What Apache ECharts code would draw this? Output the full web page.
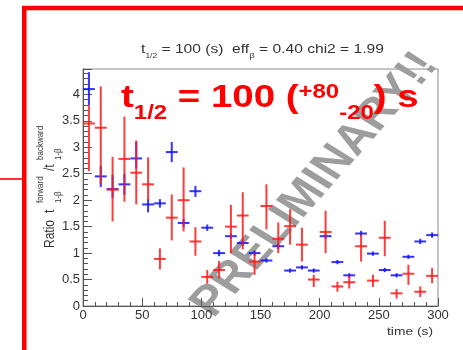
<!DOCTYPE html>
<html><head><meta charset="utf-8">
<script src="https://cdn.jsdelivr.net/npm/echarts@6/dist/echarts.min.js"></script>
<style>html,body{margin:0;padding:0;background:#fff}#c{width:463px;height:350px}</style>
</head><body><div id="c"></div>
<script>
// ---- data ----
const binCenters = [5,15,25,35,45,55,65,75,85,95,105,115,125,135,145,155,165,175,185,195,205,215,225,235,245,255,265,275,285,295];
const blueVals = [4.10,2.45,2.21,2.30,2.79,1.92,1.94,2.91,1.57,2.17,1.48,1.00,1.32,1.19,1.00,0.86,1.13,0.67,0.73,0.67,1.32,0.83,0.58,1.37,0.99,0.68,0.58,0.93,1.22,1.34];
const blueLo   = [3.80,2.25,2.04,2.10,2.60,1.77,1.86,2.72,1.49,2.06,1.42,0.94,1.27,1.14,0.95,0.82,1.08,0.63,0.69,0.63,1.27,0.79,0.54,1.32,0.95,0.64,0.54,0.89,1.17,1.29];
const blueHi   = [4.42,2.65,2.48,2.50,3.10,2.02,2.02,3.10,1.65,2.27,1.54,1.06,1.37,1.24,1.05,0.90,1.18,0.71,0.77,0.71,1.37,0.87,0.62,1.42,1.03,0.72,0.62,0.97,1.27,1.39];
const redVals  = [3.45,3.37,2.20,2.78,2.52,2.30,0.89,1.67,2.00,1.22,0.55,0.68,1.50,1.71,0.84,1.89,1.27,1.51,1.16,0.50,1.40,0.37,0.45,1.13,0.48,1.29,0.24,0.61,0.27,0.57];
const redLo    = [2.55,2.30,1.60,1.97,1.92,2.00,0.69,1.24,1.41,0.95,0.42,0.52,1.00,1.07,0.59,1.45,1.00,1.16,0.84,0.36,1.00,0.27,0.33,0.84,0.36,0.94,0.14,0.40,0.17,0.43];
const redHi    = [3.80,4.15,2.82,3.58,3.13,2.81,1.09,2.11,2.62,1.49,0.68,0.85,1.91,2.15,1.00,2.30,1.58,1.83,1.48,0.59,1.80,0.46,0.58,1.35,0.59,1.61,0.32,0.78,0.37,0.72];
const binHalfWidth = 5;
const xRange = [0, 300, 50];
const yRange = [0, 4.48, 0.5];
const titleParts = ['t', '1/2', ' = 100 (s)  eff', 'β', ' = 0.40 chi2 = 1.99'];
const resultParts = ['t', '1/2', ' = 100 (', '+80', '-20', ') s'];
const yNameParts = ['Ratio', 't', 'forward', '1-β', '/t', 'backward', '1-β'];
const xName = 'time (s)';
const watermark = 'PRELIMINARY!!';

const FONT = '"Liberation Sans", Arial, Helvetica, sans-serif';
const chart = echarts.init(document.getElementById('c'), null, {renderer: 'canvas'});

function crossSeries(name, vals, lo, hi, color, z) {
  return {
    type: 'custom', name: name, z: z, clip: true,
    data: binCenters.map((t, i) => [t, vals[i], lo[i], hi[i]]),
    encode: {x: 0, y: [1, 2, 3]},
    renderItem: function (params, api) {
      const t = api.value(0), v = api.value(1), l = api.value(2), h = api.value(3);
      const a = api.coord([t - binHalfWidth, v]), b = api.coord([t + binHalfWidth, v]);
      const c = api.coord([t, l]), d = api.coord([t, h]);
      const style = {stroke: color, lineWidth: 2, opacity: 0.85};
      return {type: 'group', children: [
        {type: 'line', shape: {x1: a[0], y1: a[1], x2: b[0], y2: b[1]}, style: style},
        {type: 'line', shape: {x1: c[0], y1: c[1], x2: d[0], y2: d[1]}, style: style}
      ]};
    }
  };
}

const axisCommon = {
  axisLine: {show: true, lineStyle: {color: '#555', width: 1}},
  splitLine: {show: false}
};

const option = {
  animation: false,
  backgroundColor: '#fff',
  grid: {left: 83, top: 69, width: 355, height: 237, show: true, borderColor: '#8a8a8a', borderWidth: 1},
  xAxis: Object.assign({}, axisCommon, {
    type: 'value', min: xRange[0], max: xRange[1], interval: xRange[2],
    axisTick: {show: true, inside: true, length: 8, lineStyle: {color: '#555'}},
    minorTick: {show: true, splitNumber: 5, length: 4, lineStyle: {color: '#555'}},
    axisLabel: {color: '#333', fontSize: 13, fontFamily: FONT, margin: 3}
  }),
  yAxis: Object.assign({}, axisCommon, {
    type: 'value', min: yRange[0], max: yRange[1], interval: yRange[2],
    axisTick: {show: true, inside: true, length: 9, lineStyle: {color: '#555'}},
    minorTick: {show: true, splitNumber: 5, length: 5, lineStyle: {color: '#555'}},
    axisLabel: {color: '#333', fontSize: 13, fontFamily: FONT, margin: 3, showMaxLabel: false,
      formatter: v => (v > 4.49 ? '' : String(v))}
  }),
  series: [
    crossSeries('blue', blueVals, blueLo, blueHi, '#1010ff', 3),
    crossSeries('red', redVals, redLo, redHi, '#ff1a1a', 4)
  ],
  graphic: [
    // red outer frame
    {type: 'rect', z: 50, shape: {x: 24.25, y: 8, width: 700, height: 700},
     style: {fill: 'none', stroke: '#ff0000', lineWidth: 4.5}},
    {type: 'line', z: 50, shape: {x1: 0, y1: 179, x2: 23, y2: 179},
     style: {stroke: '#ff0000', lineWidth: 1.6}},
    // title
    {type: 'text', z: 60, x: 262.5, y: 49.5, scaleX: 1.2,
     style: {
       text: '{m|' + titleParts[0] + '}{s|' + titleParts[1] + '}{m|' + titleParts[2] + '}{b|' + titleParts[3] + '}{m|' + titleParts[4] + '}',
       align: 'center', verticalAlign: 'middle',
       rich: {
         m: {fontSize: 13, lineHeight: 20, verticalAlign: 'middle', fill: '#333', fontFamily: FONT},
         s: {fontSize: 7, lineHeight: 11, verticalAlign: 'bottom', fill: '#333', fontFamily: FONT},
         b: {fontSize: 8, lineHeight: 1, verticalAlign: 'bottom', fill: '#333', fontFamily: FONT}
       }
     }},
    // big red result text
    {type: 'text', z: 60, x: 121, y: 102.5, scaleX: 1.2,
     style: {
       text: '{m|' + resultParts[0] + '}{s|' + resultParts[1] + '}{m|' + resultParts[2] + '}{p|' + resultParts[3] + '}{q|' + resultParts[4] + '}{m|' + resultParts[5] + '}',
       align: 'left', verticalAlign: 'middle',
       rich: {
         m: {fontSize: 32, fontWeight: 'bold', lineHeight: 41, verticalAlign: 'top', fill: '#ff0000', fontFamily: FONT},
         s: {fontSize: 20, fontWeight: 'bold', lineHeight: 20, verticalAlign: 'bottom', fill: '#ff0000', fontFamily: FONT},
         p: {fontSize: 20, fontWeight: 'bold', lineHeight: 20, verticalAlign: 'top', fill: '#ff0000', fontFamily: FONT},
         q: {fontSize: 20, fontWeight: 'bold', lineHeight: 20, verticalAlign: 'bottom', fill: '#ff0000', fontFamily: FONT}
       }
     }},
    // y-axis title (rotated)
    {type: 'group', x: 55, y: 248, scaleX: 1.2, z: 60, children: [
      {type: 'group', rotation: Math.PI / 2, children: [
        {type: 'text', x: 0, y: -4, style: {text: yNameParts[0], fontSize: 12, fill: '#333', fontFamily: FONT, verticalAlign: 'middle'}},
        {type: 'text', x: 35, y: -4, style: {text: yNameParts[1], fontSize: 12, fill: '#333', fontFamily: FONT, verticalAlign: 'middle'}},
        {type: 'text', x: 45, y: -12, style: {text: yNameParts[2], fontSize: 8, fill: '#333', fontFamily: FONT, verticalAlign: 'middle'}},
        {type: 'text', x: 45, y: 3, style: {text: yNameParts[3], fontSize: 8, fill: '#333', fontFamily: FONT, verticalAlign: 'middle'}},
        {type: 'text', x: 77, y: -4, style: {text: yNameParts[4], fontSize: 12, fill: '#333', fontFamily: FONT, verticalAlign: 'middle'}},
        {type: 'text', x: 88, y: -12, style: {text: yNameParts[5], fontSize: 8, fill: '#333', fontFamily: FONT, verticalAlign: 'middle'}},
        {type: 'text', x: 88, y: 3, style: {text: yNameParts[6], fontSize: 8, fill: '#333', fontFamily: FONT, verticalAlign: 'middle'}}
      ]}
    ]},
    // x-axis title
    {type: 'text', z: 60, x: 433, y: 332, scaleX: 1.2,
     style: {text: xName, fontSize: 11.5, fill: '#333', fontFamily: FONT, align: 'right', verticalAlign: 'middle'}},
    // watermark
    {type: 'group', x: 315, y: 185, scaleX: 1.2, z: 100, children: [
      {type: 'text', rotation: 53.5 * Math.PI / 180,
       style: {text: watermark, fontSize: 42, fontWeight: 'bold', fill: '#9d9d9d', fontFamily: FONT, align: 'center', verticalAlign: 'middle'}}
    ]}
  ]
};
chart.setOption(option);
</script>
</body></html>
